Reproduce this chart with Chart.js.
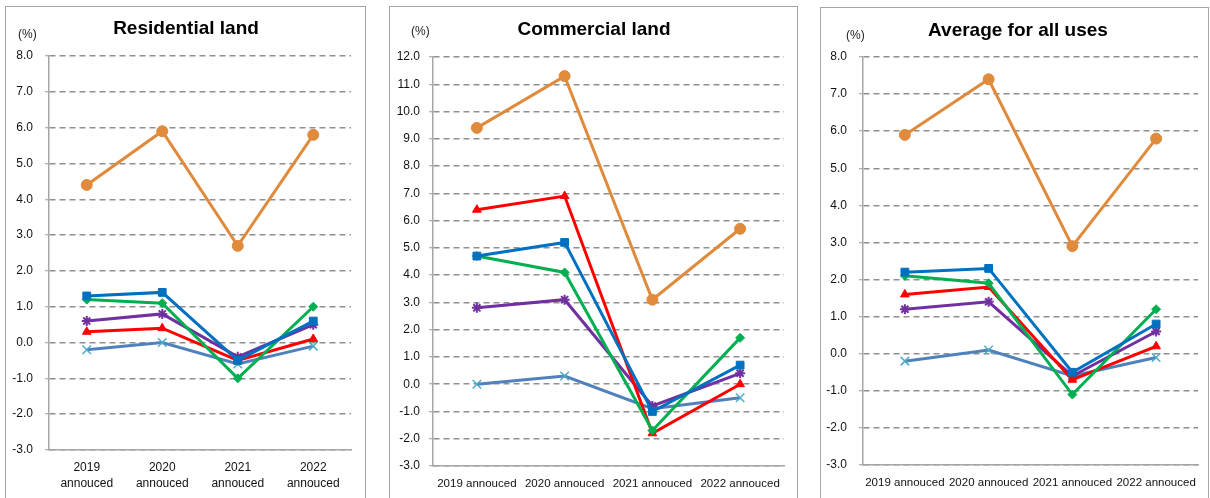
<!DOCTYPE html>
<html>
<head>
<meta charset="utf-8">
<script src="https://cdn.jsdelivr.net/npm/chart.js@4.4.1/dist/chart.umd.min.js"></script>
<style>
  body { margin: 0; background: #fff; width: 1210px; height: 498px; overflow: hidden; font-family: "Liberation Sans", Arial, sans-serif; }
  .panel { position: absolute; border: 1px solid #a6a6a6; box-sizing: border-box; background: #fff; }
  .panel canvas { position: absolute; left: 0; top: 0; }
  .title { position: absolute; width: 300px; text-align: center; font-weight: bold; font-size: 19px; line-height: 22px; color: #000; }
  .unit { position: absolute; font-size: 12px; line-height: 14px; color: #222; }
</style>
</head>
<body>

<div class="panel" id="p1" style="left:5px; top:6px; width:361px; height:500px;">
  <canvas id="chart1"></canvas>
  <div class="title" style="left:30px; top:10px;">Residential land</div>
  <div class="unit" style="left:12px; top:20px;">(%)</div>
</div>

<div class="panel" id="p2" style="left:389px; top:6px; width:409px; height:500px;">
  <canvas id="chart2"></canvas>
  <div class="title" style="left:54px; top:11px;">Commercial land</div>
  <div class="unit" style="left:21px; top:17px;">(%)</div>
</div>

<div class="panel" id="p3" style="left:820px; top:7px; width:389px; height:500px;">
  <canvas id="chart3"></canvas>
  <div class="title" style="left:47px; top:11px;">Average for all uses</div>
  <div class="unit" style="left:25px; top:20px;">(%)</div>
</div>

<script>

// ---- data ----
const yearLabels = ['2019 annouced', '2020 annouced', '2021 annouced', '2022 annouced'];
const yearLabelsTwoLine = [['2019', 'annouced'], ['2020', 'annouced'], ['2021', 'annouced'], ['2022', 'annouced']];

const seriesNames = ['Series 1', 'Series 2', 'Series 3', 'Series 4', 'Series 5', 'Series 6'];

// residential land
const resOrange = [4.4, 5.9, 2.7, 5.8];
const resBlue = [1.3, 1.4, -0.5, 0.6];
const resGreen = [1.2, 1.1, -1.0, 1.0];
const resRed = [0.3, 0.4, -0.5, 0.1];
const resPurple = [0.6, 0.8, -0.4, 0.5];
const resLightBlue = [-0.2, 0.0, -0.6, -0.1];

// commercial land
const comOrange = [9.4, 11.3, 3.1, 5.7];
const comBlue = [4.7, 5.2, -1.0, 0.7];
const comGreen = [4.7, 4.1, -1.7, 1.7];
const comRed = [6.4, 6.9, -1.8, 0.0];
const comPurple = [2.8, 3.1, -0.8, 0.4];
const comLightBlue = [0.0, 0.3, -0.9, -0.5];

// average for all uses
const allOrange = [5.9, 7.4, 2.9, 5.8];
const allBlue = [2.2, 2.3, -0.5, 0.8];
const allGreen = [2.1, 1.9, -1.1, 1.2];
const allRed = [1.6, 1.8, -0.7, 0.2];
const allPurple = [1.2, 1.4, -0.6, 0.6];
const allLightBlue = [-0.2, 0.1, -0.6, -0.1];


// ---- styles ----
const lineStyles = [
    { color: '#E08A3C', marker: '#E08A3C', style: 'circle', radius: 5.5, bw: 1 },
    { color: '#0070C0', marker: '#0070C0', style: 'rect', radius: 5.5, bw: 1 },
    { color: '#00B050', marker: '#00B050', style: 'rectRot', radius: 4.5, bw: 1 },
    { color: '#FF0000', marker: '#FF0000', style: 'triangle', radius: 5, bw: 1 },
    { color: '#7030A0', marker: '#7030A0', style: 'star', radius: 5, bw: 2 },
    { color: '#4F81BD', marker: '#4BACC6', style: 'crossRot', radius: 6, bw: 1.5 }
];

function buildDatasets(seriesList) {
    return seriesList.map((values, i) => {
        const s = lineStyles[i];
        return {
            label: seriesNames[i],
            data: values,
            borderColor: s.color,
            backgroundColor: s.marker,
            borderWidth: 3,
            pointStyle: s.style,
            pointRadius: s.radius,
            pointBorderColor: s.marker,
            pointBackgroundColor: s.marker,
            pointBorderWidth: s.bw,
            tension: 0,
            order: i
        };
    });
}

// box = panel size, area = chart area inside the panel
function makeChart(canvasId, labels, seriesList, yMin, yMax, box, area, tickPad, xFontSize) {
    const canvas = document.getElementById(canvasId);
    canvas.width = box.w;
    canvas.height = box.h;

    new Chart(canvas.getContext('2d'), {
        type: 'line',
        data: {
            labels: labels,
            datasets: buildDatasets(seriesList)
        },
        options: {
            responsive: false,
            animation: false,
            layout: {
                padding: { left: 0, top: area.top, right: box.w - area.right, bottom: 0 }
            },
            plugins: {
                legend: { display: false },
                tooltip: { enabled: false }
            },
            scales: {
                x: {
                    offset: true,
                    grid: { display: false, drawTicks: false },
                    border: { display: true, color: '#a6a6a6', width: 1.5 },
                    ticks: {
                        color: '#111',
                        padding: 10,
                        maxRotation: 0,
                        autoSkip: false,
                        font: { family: 'Liberation Sans', size: xFontSize, lineHeight: 1.33 }
                    },
                    afterFit: (scale) => { scale.height = box.h - area.bottom; }
                },
                y: {
                    min: yMin,
                    max: yMax,
                    grid: { color: '#8f8f8f', lineWidth: 1.5, tickLength: 4, tickColor: '#9a9a9a', tickWidth: 1 },
                    border: { display: true, color: '#a6a6a6', width: 1.5, dash: [6, 4] },
                    ticks: {
                        stepSize: 1,
                        color: '#111',
                        padding: tickPad,
                        font: { family: 'Liberation Sans', size: 12 },
                        callback: (v) => Number(v).toFixed(1)
                    },
                    afterFit: (scale) => { scale.width = area.left; }
                }
            }
        }
    });
}

// panel 1 sits at (5,6), panel 2 at (389,6), panel 3 at (820,7)
makeChart('chart1', yearLabelsTwoLine,
    [resOrange, resBlue, resGreen, resRed, resPurple, resLightBlue],
    -3, 8,
    { w: 359, h: 498 },
    { left: 43, top: 49, right: 345, bottom: 443 }, 12, 12);

makeChart('chart2', yearLabels,
    [comOrange, comBlue, comGreen, comRed, comPurple, comLightBlue],
    -3, 12,
    { w: 407, h: 498 },
    { left: 43, top: 50, right: 394, bottom: 459 }, 9, 11.5);

makeChart('chart3', yearLabels,
    [allOrange, allBlue, allGreen, allRed, allPurple, allLightBlue],
    -3, 8,
    { w: 387, h: 498 },
    { left: 42, top: 49, right: 377, bottom: 457 }, 12, 11.5);

</script>
</body>
</html>
